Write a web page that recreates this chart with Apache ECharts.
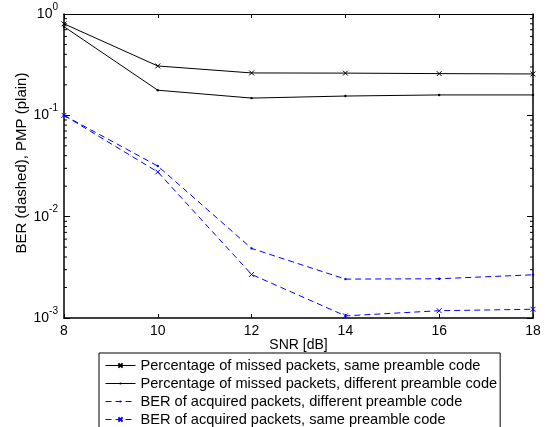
<!DOCTYPE html>
<html><head><meta charset="utf-8">
<script src="https://cdn.jsdelivr.net/npm/echarts@6/dist/echarts.min.js"></script>
<style>html,body{margin:0;padding:0;background:#fff}#c{width:548px;height:427px}</style>
</head><body><div id="c"></div>
<script>
const snr = [8, 10, 12, 14, 16, 18];
const missedSame = [0.80, 0.307, 0.262, 0.261, 0.258, 0.256];
const missedDiff = [0.75, 0.177, 0.148, 0.155, 0.159, 0.159];
const berDiff = [0.100, 0.0316, 0.00486, 0.00242, 0.00244, 0.00267];
const berSame = [0.100, 0.0276, 0.00269, 0.00105, 0.00118, 0.00122];
const names = [
  'Percentage of missed packets, same preamble code',
  'Percentage of missed packets, different preamble code',
  'BER of acquired packets, different preamble code',
  'BER of acquired packets, same preamble code'
];
const minorVals = [];
[0.001, 0.01, 0.1].forEach(d => { for (let m = 2; m <= 9; m++) minorVals.push([m * d]); });

const font = 'Liberation Sans, Arial, sans-serif';
const xPath = 'path://M0,0M16,16M5,5L11,11M11,5L5,11';
const dotPath = 'path://M0,0M10,10M4,5A1,1 0 1,0 6,5A1,1 0 1,0 4,5Z';
const pair = (xs, ys) => xs.map((x, i) => [x, ys[i]]);

const yLabel = {
  fontFamily: font, color: '#000', margin: 6, padding: [0, 0, 5, 0],
  formatter: v => '{b|10}{e|' + Math.round(Math.log10(v)) + '}',
  rich: {
    b: { fontSize: 14, lineHeight: 19, verticalAlign: 'bottom', fontFamily: font, color: '#000' },
    e: { fontSize: 10, lineHeight: 10, verticalAlign: 'top', fontFamily: font, color: '#000' }
  }
};

const chart = echarts.init(document.getElementById('c'));
chart.setOption({
  animation: false,
  backgroundColor: '#fff',
  grid: { left: 64, right: 15, top: 14, bottom: 109, containLabel: false },
  legend: {
    data: names, orient: 'vertical', left: 99, top: 353, height: 100,
    itemWidth: 30, itemHeight: 14, itemGap: 3,
    lineStyle: { width: 1, type: 'inherit', color: 'inherit' },
    padding: [5, 3, 5, 6], borderColor: '#000', borderWidth: 1, backgroundColor: '#fff',
    textStyle: { fontFamily: font, fontSize: 14.6, color: '#000' }
  },
  xAxis: [{
    type: 'value', min: 8, max: 18, interval: 2,
    name: 'SNR [dB]', nameLocation: 'middle', nameGap: 20, nameMoveOverlap: false,
    nameTextStyle: { fontFamily: font, fontSize: 14, color: '#000' },
    axisLine: { lineStyle: { color: '#000', width: 1.5 } },
    axisTick: { inside: true, length: 4, lineStyle: { color: '#000' } },
    axisLabel: { fontFamily: font, fontSize: 14, color: '#000', margin: 6 },
    splitLine: { show: false }
  }, {
    type: 'value', min: 8, max: 18, interval: 2, position: 'top',
    axisLine: { lineStyle: { color: '#000', width: 1 } },
    axisTick: { inside: true, length: 4, lineStyle: { color: '#000' } },
    axisLabel: { show: false }, splitLine: { show: false }
  }],
  yAxis: [{
    type: 'log', logBase: 10, min: 0.001, max: 1,
    name: 'BER (dashed), PMP (plain)', nameLocation: 'middle', nameGap: 35, nameMoveOverlap: false,
    nameTextStyle: { fontFamily: font, fontSize: 15, color: '#000', padding: [0, 0, 0, 6] },
    axisLine: { lineStyle: { color: '#000', width: 1.5 } },
    axisTick: { inside: true, length: 6, lineStyle: { color: '#000' } },
    axisLabel: yLabel, splitLine: { show: false }, minorTick: { show: false }
  }, {
    type: 'log', logBase: 10, min: 0.001, max: 1, position: 'right',
    axisLine: { lineStyle: { color: '#000', width: 1.5 } },
    axisTick: { inside: true, length: 6, lineStyle: { color: '#000' } },
    axisLabel: { show: false }, splitLine: { show: false }
  }],
  series: [{
    name: names[0], type: 'line', data: pair(snr, missedSame),
    symbol: xPath, symbolSize: 13,
    color: '#000',
    lineStyle: { color: '#000', width: 1 },
    itemStyle: { color: '#000', borderColor: '#000', borderWidth: 1 }
  }, {
    name: names[1], type: 'line', data: pair(snr, missedDiff),
    symbol: dotPath, symbolSize: 12,
    color: '#000',
    lineStyle: { color: '#000', width: 1 },
    itemStyle: { color: '#000' }
  }, {
    name: names[2], type: 'line', data: pair(snr, berDiff),
    symbol: dotPath, symbolSize: 12,
    color: '#0000ff',
    lineStyle: { color: '#0000ff', width: 1, type: [6, 4] },
    itemStyle: { color: '#0000ff' }
  }, {
    name: names[3], type: 'line', data: pair(snr, berSame),
    symbol: xPath, symbolSize: 13,
    color: '#0000ff',
    lineStyle: { color: '#0000ff', width: 1, type: [6, 4] },
    itemStyle: { color: '#0000ff', borderColor: '#0000ff', borderWidth: 1 }
  }, {
    name: 'minor', type: 'custom', data: minorVals, silent: true,
    renderItem: (params, api) => {
      const v = api.value(0);
      const l = api.coord([8, v]);
      const r = api.coord([18, v]);
      return { type: 'group', children: [
        { type: 'line', shape: { x1: l[0], y1: l[1], x2: l[0] + 3, y2: l[1] }, style: { stroke: '#000', lineWidth: 1 } },
        { type: 'line', shape: { x1: r[0], y1: r[1], x2: r[0] - 3, y2: r[1] }, style: { stroke: '#000', lineWidth: 1 } }
      ]};
    }
  }]
});
</script></body></html>
